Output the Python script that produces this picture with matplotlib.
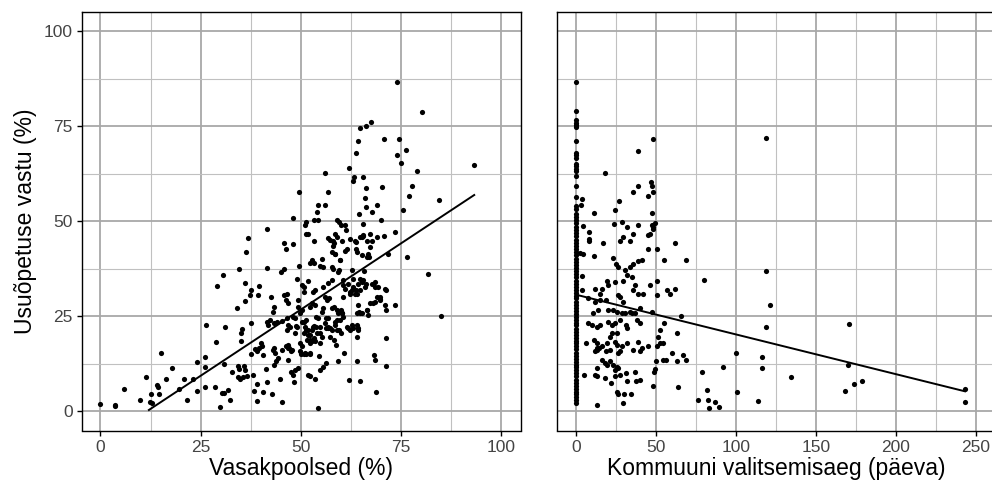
import matplotlib
matplotlib.use("Agg")
import matplotlib.pyplot as plt
from matplotlib.ticker import MultipleLocator
import numpy as np

plt.rcParams['font.family'] = ['Liberation Sans', 'DejaVu Sans']

# ---------------- data: left panel (Vasakpoolsed %, Usuõpetuse vastu %) ----------------
left_x = [0.0, 3.6, 3.6, 5.8, 9.9, 11.3, 12.4, 12.5, 12.8, 14.2, 14.4, 14.5, 15.2, 16.3, 17.9,
          19.7, 20.9, 21.7, 23.2, 24.0, 24.0, 26.0, 26.0, 26.2, 26.4, 28.6, 28.8, 29.2, 29.8,
          30.4, 30.8, 31.8, 30.7, 30.8, 31.2, 32.4, 32.8, 34.0, 34.3, 34.3, 34.5, 34.9, 34.7,
          35.0, 35.4, 35.2, 35.6, 35.8, 36.1, 36.7, 36.0, 36.3, 36.0, 36.9, 37.3, 37.7, 37.5,
          37.5, 38.0, 38.4, 38.6, 39.0, 39.7, 39.2, 39.0, 39.4, 39.7, 40.0, 40.3, 40.7, 40.7,
          41.3, 41.5, 41.5, 41.5, 41.5, 41.8, 42.4, 42.6, 42.8, 43.2, 43.0, 43.6, 43.2, 43.9,
          44.4, 43.2, 43.0, 43.4, 44.0, 44.9, 45.3, 45.3, 45.0, 45.8, 46.2, 45.8, 45.9, 46.5,
          46.2, 46.7, 46.3, 46.7, 47.1, 47.5, 46.9, 46.5, 46.9, 47.6, 48.0, 48.5, 48.0, 48.0,
          48.2, 48.5, 48.8, 48.6, 49.0, 49.2, 49.2, 49.4, 49.5, 49.5, 49.8, 50.2, 49.8, 50.2,
          50.1, 50.7, 51.3, 52.3, 50.2, 50.7, 50.7, 50.9, 51.3, 50.9, 51.3, 51.9, 51.1, 51.3,
          51.3, 51.9, 51.7, 51.7, 52.3, 52.2, 52.8, 53.2, 52.3, 52.9, 53.3, 52.3, 52.9, 53.5,
          52.8, 53.2, 53.8, 53.0, 53.5, 53.2, 53.4, 53.6, 53.8, 54.4, 54.0, 54.4, 54.4, 54.4,
          54.5, 54.7, 54.8, 55.2, 55.6, 54.8, 55.2, 55.2, 55.5, 55.5, 55.6, 56.0, 56.0, 56.0,
          56.6, 57.1, 56.3, 56.3, 56.8, 56.4, 56.8, 57.3, 56.8, 56.8, 56.8, 57.3, 57.3, 57.7,
          58.0, 58.2, 57.7, 58.0, 57.7, 58.2, 58.2, 58.6, 58.6, 58.6, 59.1, 58.8, 59.0, 59.6,
          59.1, 59.6, 60.0, 59.3, 59.4, 59.8, 60.0, 59.6, 59.8, 60.0, 60.2, 60.6, 60.6, 61.0,
          60.8, 61.0, 61.3, 61.5, 61.9, 62.3, 63.0, 62.0, 62.1, 62.3, 62.8, 62.3, 62.8, 63.1,
          63.1, 63.3, 63.7, 63.7, 64.0, 63.9, 63.9, 64.0, 64.0, 64.4, 64.4, 64.1, 64.4, 64.6,
          64.8, 64.4, 64.6, 64.8, 64.8, 64.8, 65.2, 65.2, 65.6, 65.5, 65.6, 65.8, 66.0, 66.2,
          66.4, 66.4, 66.4, 66.6, 66.9, 66.9, 67.1, 67.3, 67.5, 67.7, 67.9, 68.1, 68.5, 68.3,
          68.5, 68.5, 68.8, 69.0, 69.0, 69.4, 69.8, 69.8, 70.0, 70.2, 70.7, 70.8, 71.0, 71.4,
          71.0, 71.4, 71.4, 71.4, 71.9, 73.5, 73.5, 73.9, 74.1, 74.4, 75.0, 75.4, 76.3, 76.4,
          77.1, 77.7, 79.1, 80.2, 81.7, 84.4, 85.1, 93.3,
          46.5, 47.3, 48.1, 49.1, 50.2, 51.1, 51.9, 52.3, 53.1, 54.0, 54.8, 56.1, 56.9, 57.7,
          51.5, 52.3, 53.6, 54.8, 49.8, 51.1, 52.3, 47.7, 46.9, 45.2,
          58.1, 59.0, 60.2, 61.0, 58.6, 59.8, 57.7, 59.4, 60.6, 61.9, 63.1, 64.4, 65.6, 62.3,
          63.5, 64.8, 60.6, 59.0, 60.2, 59.8, 58.6, 61.5, 62.7, 64.0, 65.2, 66.5, 67.3, 66.0,
          67.7, 68.5, 69.0, 69.8, 63.5, 64.8, 65.6, 66.5, 67.3, 64.0, 65.2, 66.5]
left_y = [2.0, 1.6, 1.4, 6.0, 2.9, 9.1, 2.4, 4.6, 2.2, 6.9, 6.4, 4.6, 15.4, 8.6, 11.3,
          6.0, 8.6, 2.9, 8.6, 12.9, 5.5, 11.8, 6.4, 14.2, 22.6, 6.5, 18.3, 32.9, 1.3,
          4.9, 4.9, 5.7, 36.0, 12.5, 22.3, 3.1, 10.4, 27.2, 12.0, 9.0, 11.1, 8.5, 37.5,
          20.7, 21.7, 18.4, 9.0, 12.0, 10.8, 9.2, 33.7, 41.9, 29.1, 45.7, 30.5, 31.8, 23.2,
          15.1, 9.6, 5.3, 16.4, 15.8, 16.6, 7.1, 2.8, 30.6, 33.1, 17.9, 17.1, 14.9, 5.1,
          11.1, 7.7, 47.9, 37.6, 23.4, 22.8, 24.0, 30.1, 4.6, 16.6, 16.2, 15.3, 12.1, 13.2,
          14.0, 27.5, 26.2, 23.2, 23.4, 8.5, 2.6, 23.9, 36.6, 44.4, 42.8, 37.5, 30.6, 31.0,
          29.3, 28.4, 17.1, 16.6, 16.6, 15.8, 22.7, 21.4, 13.6, 10.5, 9.7, 11.0, 50.9, 43.9,
          7.7, 24.5, 22.5, 20.6, 34.7, 27.5, 29.3, 11.4, 57.6, 38.2, 25.8, 26.6, 17.9, 17.1,
          15.2, 15.2, 15.2, 15.2, 33.2, 32.8, 31.4, 23.6, 24.0, 20.6, 21.4, 20.1, 48.9, 49.7,
          46.7, 46.7, 34.3, 9.7, 9.2, 18.8, 18.4, 19.3, 39.0, 39.9, 38.9, 27.5, 28.4, 28.0,
          21.4, 22.5, 22.3, 31.4, 31.9, 44.9, 50.2, 8.6, 24.9, 24.5, 52.4, 1.0, 50.2, 54.3,
          14.5, 10.8, 38.2, 40.2, 38.0, 20.6, 19.7, 26.2, 27.1, 11.8, 32.8, 54.3, 62.8, 30.1,
          29.3, 29.7, 12.7, 24.5, 24.5, 21.9, 22.3, 21.9, 57.8, 33.7, 45.6, 45.1, 19.7, 41.8,
          43.5, 44.4, 34.5, 37.5, 27.1, 27.5, 18.8, 46.7, 41.5, 23.6, 24.0, 17.5, 21.4, 21.4,
          50.2, 49.7, 49.1, 13.3, 25.8, 26.2, 26.8, 37.1, 39.7, 20.6, 25.8, 24.9, 33.2, 32.3,
          15.3, 48.9, 47.6, 42.8, 21.9, 21.4, 21.9, 64.1, 8.4, 31.4, 31.9, 45.4, 37.1, 34.9,
          60.6, 61.5, 68.0, 31.9, 31.0, 44.5, 42.8, 13.2, 22.8, 21.9, 21.4, 19.7, 28.0, 26.2,
          25.8, 71.1, 51.9, 7.9, 74.4, 34.9, 34.1, 45.8, 46.3, 49.3, 61.5, 36.8, 56.0, 53.7,
          75.0, 58.8, 33.6, 26.7, 25.3, 41.5, 40.6, 46.7, 76.2, 44.9, 52.3, 28.4, 28.8, 14.9,
          13.6, 34.1, 5.1, 54.3, 45.8, 32.6, 30.1, 29.6, 50.2, 59.1, 46.2, 71.6, 32.1, 31.9,
          28.0, 26.7, 19.4, 12.0, 41.3, 47.1, 28.0, 86.5, 67.3, 71.5, 65.2, 53.0, 68.6, 40.6,
          56.7, 59.2, 63.1, 78.7, 36.1, 55.6, 25.1, 64.9,
          24.5, 22.3, 24.9, 22.3, 23.6, 22.3, 21.4, 20.1, 22.3, 20.6, 22.3, 23.2, 21.9, 21.4,
          18.8, 17.9, 18.4, 17.9, 15.8, 15.3, 15.3, 16.2, 17.5, 16.2,
          44.9, 45.8, 44.9, 42.3, 41.5, 39.7, 38.0, 36.7, 34.5, 33.6, 32.7, 33.6, 34.5, 31.0,
          31.0, 31.9, 30.1, 26.7, 25.8, 24.0, 22.7, 22.3, 22.7, 25.8, 25.8, 26.7, 28.4, 32.7,
          33.6, 32.7, 30.1, 29.3, 44.9, 45.8, 46.2, 44.9, 43.2, 41.9, 41.0, 40.6]

# regression line (left): x range and fitted values
left_fit_x = [12.1, 93.3]
left_fit_y = [0.4, 56.9]

# ---------------- data: right panel (Kommuuni valitsemisaeg päeva, Usuõpetuse vastu %) ----------------
# municipalities with 0 days
right_zero_y = [86.5, 78.9, 76.5, 75.9, 75.3, 74.7, 71.1, 68.0, 67.4, 66.7, 65.0, 64.4, 63.7,
                63.1, 61.9, 59.3, 56.3, 54.1, 53.2, 51.9, 51.0, 50.2, 49.5, 48.5, 47.6, 46.9,
                46.0, 45.1, 44.2, 43.5, 42.7, 41.8, 41.0, 40.2, 39.3, 38.6, 37.8, 36.9, 36.1,
                35.3, 34.4, 33.6, 32.8, 32.0, 31.2, 30.4, 29.7, 28.9, 28.1, 27.3, 26.5, 25.7,
                24.9, 24.1, 23.3, 22.6, 21.8, 21.0, 20.2, 19.4, 18.6, 17.9, 17.1, 16.3, 15.5,
                14.7, 13.9, 13.1, 12.3, 11.6, 10.8, 10.0, 9.2, 8.4, 7.6, 6.8, 6.0, 5.2, 4.5,
                3.7, 2.9, 2.2]
right_x = [118.8, 47.9, 39.0, 18.1, 39.0, 46.7, 47.3, 47.9, 44.8, 35.8, 3.5, 2.9, 27.1, 11.5,
           24.2, 47.3, 4.2, 8.1, 8.1, 7.9, 16.7, 11.3, 2.5, 4.2, 3.8, 3.8,
           24.0, 29.0, 32.1, 35.8, 33.8, 29.6, 27.5, 39.0, 47.3, 49.2, 48.3, 46.3, 45.2, 47.9,
           44.8, 50.8, 22.9, 25.0, 26.5, 30.6, 31.7, 33.8, 35.8, 39.0, 41.0, 55.0, 68.8, 61.9,
           19.6, 20.2, 24.4, 29.6, 34.8, 36.9, 35.8, 39.0, 42.1, 46.3, 50.8, 50.8, 56.7, 58.8,
           61.9, 80.0, 118.8, 121.3, 12.1, 16.0, 15.0,
           7.7, 11.9, 15.0, 18.8, 26.5, 27.5, 29.6, 33.8, 36.9, 40.0,
           10.8, 14.0, 20.2, 23.3, 25.8, 28.5, 30.6, 34.8, 47.3, 65.4,
           7.7, 9.8, 12.9, 15.0, 20.2, 22.3, 24.4, 27.5, 31.2, 32.1, 37.9, 40.0, 55.2, 118.8, 170.8,
           22.3, 25.4, 21.3, 52.5, 51.5, 62.9,
           6.3, 11.3, 12.9, 16.0, 11.9, 13.3, 19.6, 24.4, 25.4, 28.5, 31.7, 39.0, 45.2, 50.4, 52.5, 54.6,
           12.9, 14.6, 18.8, 21.3, 26.5, 27.5, 35.8, 40.0, 41.0,
           16.0, 18.1, 19.6, 21.3, 23.3, 25.4, 24.4, 26.0,
           50.0, 49.4, 49.0, 54.6, 56.3, 60.2, 62.9, 67.1, 68.8,
           13.3, 12.9, 5.0, 11.9,
           18.1, 21.7, 24.4, 27.5, 31.2, 36.9, 40.0, 37.5, 32.1,
           25.4, 26.0, 30.0, 34.2, 29.2, 47.9, 12.9, 64.0, 78.5, 82.1, 92.1, 100.0, 100.8,
           116.3, 116.3, 134.6, 169.8, 168.1, 174.0, 179.0, 243.1, 243.1,
           76.0, 82.7, 83.1, 87.1, 89.2, 114.0]
right_y = [72.0, 71.5, 68.5, 62.8, 59.3, 60.2, 59.3, 57.6, 56.7, 57.8, 55.8, 54.4, 55.4, 52.2,
           53.0, 52.2, 48.8, 47.3, 45.4, 44.9, 44.3, 40.9, 41.7, 41.3, 35.5, 31.9,
           49.3, 49.7, 48.4, 46.7, 44.9, 45.8, 44.9, 49.1, 49.1, 49.6, 48.4, 46.7, 46.3, 47.9,
           42.8, 42.8, 40.4, 38.8, 38.0, 37.1, 35.8, 38.0, 38.8, 39.5, 39.9, 39.7, 39.7, 44.3,
           34.3, 33.2, 34.1, 34.3, 35.3, 33.2, 31.9, 31.0, 31.0, 33.2, 34.3, 30.6, 31.9, 31.0,
           32.3, 34.5, 36.8, 28.1, 32.1, 32.3, 31.0,
           29.7, 28.8, 29.3, 29.3, 30.6, 30.1, 28.8, 26.2, 25.8, 27.1,
           26.0, 26.7, 26.7, 26.7, 26.2, 25.8, 25.8, 25.8, 26.2, 25.2,
           23.3, 22.7, 22.3, 22.7, 23.6, 22.7, 23.2, 24.0, 22.7, 21.9, 24.0, 23.2, 23.3, 22.1, 22.9,
           20.6, 20.6, 19.7, 21.4, 19.7, 20.6,
           17.9, 18.8, 17.9, 17.1, 15.8, 16.2, 17.9, 18.3, 17.5, 17.1, 17.9, 18.3, 17.1, 17.1, 17.9, 17.9,
           16.6, 16.8, 15.8, 16.2, 15.3, 15.8, 16.2, 15.8, 16.6,
           13.6, 12.7, 12.3, 13.2, 12.3, 11.8, 11.0, 11.4,
           13.2, 11.1, 10.5, 13.6, 13.6, 15.5, 13.2, 14.9, 13.4,
           11.4, 9.2, 9.5, 9.7,
           8.8, 7.5, 9.2, 9.7, 10.1, 10.5, 8.4, 8.1, 7.9,
           5.1, 4.6, 4.6, 4.6, 2.3, 6.6, 1.6, 6.4, 10.3, 5.7, 11.8, 15.3, 5.1,
           14.3, 11.3, 9.1, 12.1, 5.3, 7.3, 7.9, 6.0, 2.5,
           2.9, 2.9, 1.0, 2.5, 1.2, 2.8]

right_fit_x = [0.0, 243.1]
right_fit_y = [30.7, 5.3]

# ---------------- labels ----------------
y_label = "Usuõpetuse vastu (%)"
left_xlabel = "Vasakpoolsed (%)"
right_xlabel = "Kommuuni valitsemisaeg (päeva)"
left_xticks = [0, 25, 50, 75, 100]
right_xticks = [0, 50, 100, 150, 200, 250]
y_ticks = [0, 25, 50, 75, 100]

# ---------------- figure ----------------
W, H = 992, 490
fig = plt.figure(figsize=(W / 100, H / 100), dpi=100)

top_px, bot_px = 12, 430.5
ax1 = fig.add_axes([82 / W, 1 - bot_px / H, (520.7 - 82) / W, (bot_px - top_px) / H])
ax2 = fig.add_axes([556.6 / W, 1 - bot_px / H, (996 - 556.6) / W, (bot_px - top_px) / H])

major_col, minor_col = '#a8a8a8', '#c0c0c0'
tick_col = '#444444'
dot_size = 14

for ax in (ax1, ax2):
    ax.set_axisbelow(True)
    ax.grid(True, which='major', color=major_col, linewidth=1.3)
    ax.grid(True, which='minor', color=minor_col, linewidth=0.8)
    for sp in ax.spines.values():
        sp.set_color('black')
        sp.set_linewidth(1.0)
    ax.set_ylim(-5, 105)
    ax.yaxis.set_major_locator(MultipleLocator(25))
    ax.yaxis.set_minor_locator(MultipleLocator(12.5))
    ax.tick_params(which='major', length=3.5, width=1.0, color='black',
                   labelsize=12.5, labelcolor=tick_col, pad=3)
    ax.tick_params(which='minor', length=0)

ax1.scatter(left_x, left_y, s=dot_size, color='black', linewidths=0, zorder=3)
ax1.plot(left_fit_x, left_fit_y, color='black', linewidth=1.4, zorder=4)
ax1.set_xlim(-4.6, 104.9)
ax1.set_xticks(left_xticks)
ax1.xaxis.set_minor_locator(MultipleLocator(12.5))
ax1.set_yticks(y_ticks)
ax1.set_xlabel(left_xlabel, fontsize=16.5, labelpad=2)
ax1.set_ylabel(y_label, fontsize=16.5, labelpad=5)

ax2.scatter(np.zeros(len(right_zero_y)), right_zero_y, s=dot_size, color='black', linewidths=0, zorder=3)
ax2.scatter(right_x, right_y, s=dot_size, color='black', linewidths=0, zorder=3)
ax2.plot(right_fit_x, right_fit_y, color='black', linewidth=1.4, zorder=4)
ax2.set_xlim(-12.1, 262.5)
ax2.set_xticks(right_xticks)
ax2.xaxis.set_minor_locator(MultipleLocator(25))
ax2.set_yticks(y_ticks)
ax2.tick_params(axis='y', which='both', left=False, labelleft=False)
ax2.set_xlabel(right_xlabel, fontsize=16.5, labelpad=2)

fig.savefig("out.png", dpi=100)
